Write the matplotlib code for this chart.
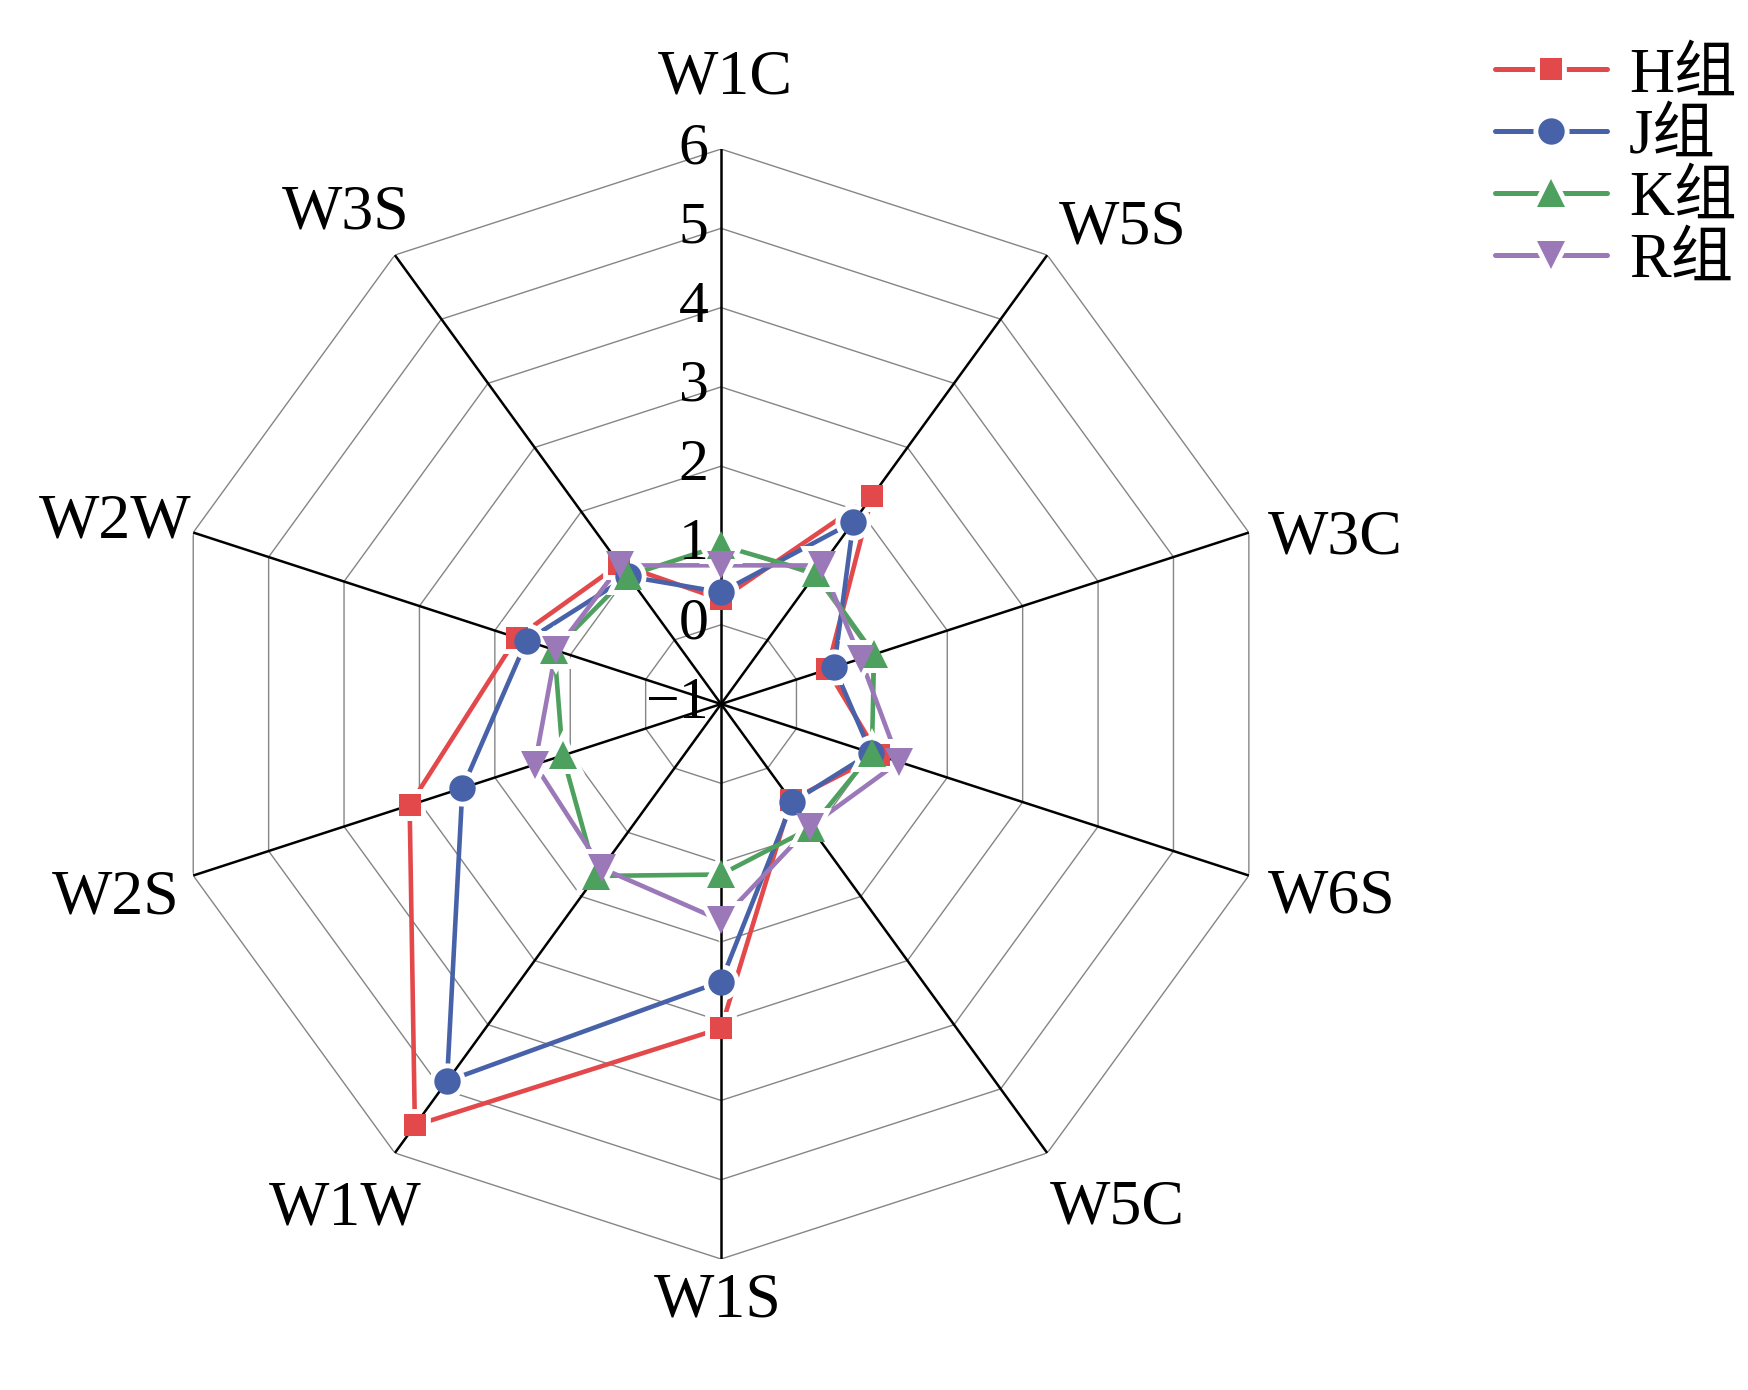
import numpy as np
import matplotlib.pyplot as plt
from matplotlib.lines import Line2D
from matplotlib.legend_handler import HandlerTuple

plt.rcParams['font.family'] = ['Liberation Serif', 'Noto Sans CJK SC']

# 数据
categories = ['W1C', 'W5S', 'W3C', 'W6S', 'W5C', 'W1S', 'W1W', 'W2S', 'W2W', 'W3S']
h_vals = [0.32, 2.24, 0.41, 1.09, 0.50, 3.09, 5.57, 3.13, 1.71, 1.18]
j_vals = [0.41, 1.84, 0.50, 0.99, 0.53, 2.50, 4.88, 2.43, 1.58, 0.99]
k_vals = [1.00, 1.04, 1.03, 1.00, 0.93, 1.15, 1.68, 1.10, 1.21, 1.00]
r_vals = [0.75, 1.16, 0.85, 1.36, 0.91, 1.73, 1.56, 1.47, 1.19, 1.16]
group_names = ['H组', 'J组', 'K组', 'R组']
r_ticks = [-1, 0, 1, 2, 3, 4, 5, 6]

colors = ['#E3484B', '#4862A9', '#4EA05E', '#9B79B8']
markers = ['s', 'o', '^', 'v']
msizes = [15.5, 19, 20, 20]

# 标签相对外顶点的偏移(像素)
label_offsets = {'W1C': (4, 56), 'W5S': (76, 12), 'W3C': (86, -21), 'W6S': (83, -37),
                 'W5C': (70, -70), 'W1S': (-3, -57), 'W1W': (-50, -71), 'W2S': (-77, -38),
                 'W2W': (-78, -5), 'W3S': (-49, 27)}

n = len(categories)
angles = np.linspace(0, 2 * np.pi, n, endpoint=False)
closed = np.append(angles, angles[0])

fig = plt.figure(figsize=(17.48, 13.9), dpi=100)
ax = fig.add_axes([0.095, 0.0942, 0.635, 0.7986], projection='polar')
ax.set_theta_zero_location('N')
ax.set_theta_direction(-1)
ax.set_ylim(r_ticks[0], r_ticks[-1])
ax.grid(False)
ax.spines['polar'].set_visible(False)
ax.set_xticks([])
ax.set_yticks([])

# 十边形网格
for t in r_ticks[1:]:
    ax.plot(closed, [t] * (n + 1), color='#858585', lw=1.0, zorder=1)
for a in angles:
    ax.plot([a, a], [r_ticks[0], r_ticks[-1]], color='black', lw=1.8, zorder=4.5)

# 径向刻度
for t in r_ticks:
    lab = str(t).replace('-', '\u2212')
    ax.annotate(lab, xy=(0, t), xytext=(-9, 0), textcoords='offset points',
                ha='right', va='center', fontsize=43, zorder=6)

# 类别标签
for a, c in zip(angles, categories):
    dx, dy = label_offsets[c]
    ax.annotate(c, xy=(a, r_ticks[-1]), xytext=(dx, dy), textcoords='offset pixels',
                ha='center', va='baseline', fontsize=46)

# 数据线: 线 -> 白色间隙 -> 标记
series = [h_vals, j_vals, k_vals, r_vals]
handles = []
for vals, name, col, mk, ms in zip(series, group_names, colors, markers, msizes):
    v = np.append(vals, vals[0])
    ax.plot(closed, v, color=col, lw=3.3, zorder=3, solid_capstyle='round')
    ax.plot(angles, vals, ls='none', marker=mk, markersize=ms, markerfacecolor='white',
            markeredgecolor='white', markeredgewidth=7, zorder=4)
    ax.plot(angles, vals, ls='none', marker=mk, markersize=ms, markerfacecolor=col,
            markeredgewidth=0, zorder=5)
    h_line = Line2D([], [], color=col, lw=3.6, solid_capstyle='round')
    h_gap = Line2D([], [], ls='none', marker=mk, markersize=ms, markerfacecolor='white',
                   markeredgecolor='white', markeredgewidth=7)
    h_mk = Line2D([], [], ls='none', marker=mk, markersize=ms, markerfacecolor=col,
                  markeredgewidth=0)
    handles.append((h_line, h_gap, h_mk))

fig.legend(handles=handles, labels=group_names,
           handler_map={tuple: HandlerTuple(ndivide=1, pad=0)},
           loc='upper left', bbox_to_anchor=(0.855, 0.966), frameon=False, fontsize=45,
           handlelength=1.8, labelspacing=0.06, handletextpad=0.35, borderaxespad=0,
           borderpad=0)

fig.savefig('out.png', dpi=100)
